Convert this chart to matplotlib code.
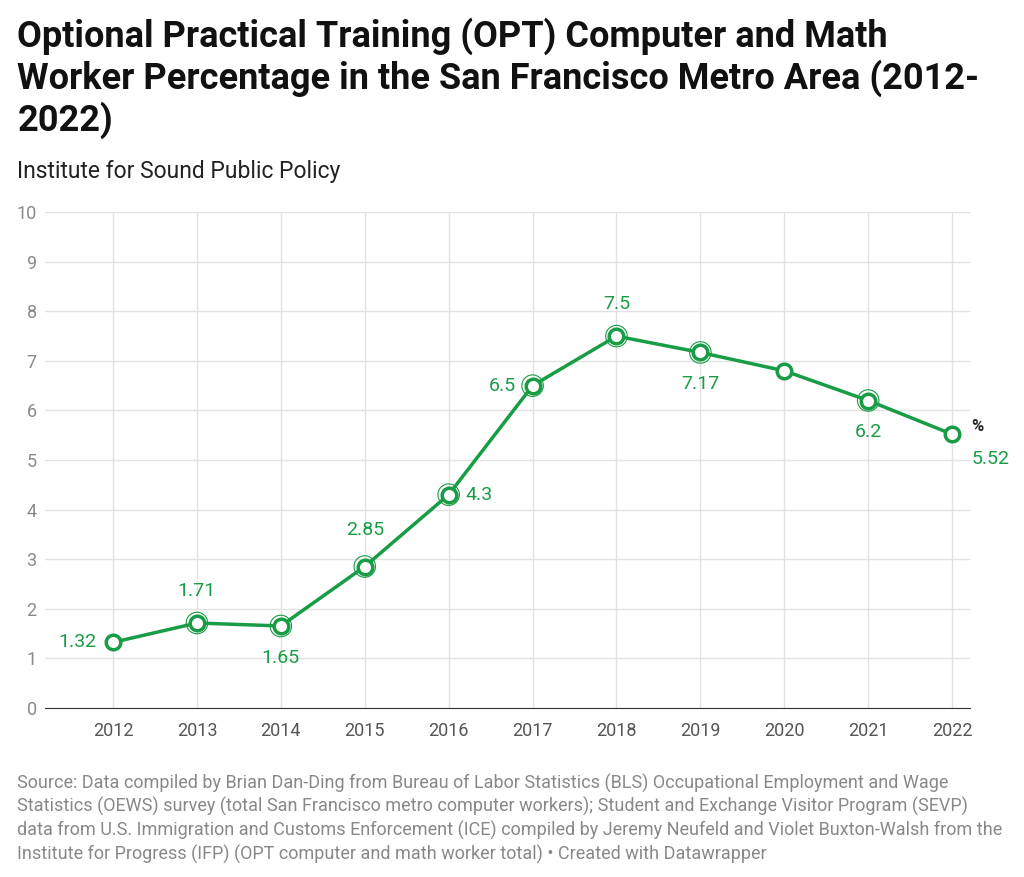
import matplotlib
matplotlib.use("Agg")
import matplotlib.pyplot as plt

plt.rcParams['font.family'] = ['Roboto', 'DejaVu Sans']

years = [2012, 2013, 2014, 2015, 2016, 2017, 2018, 2019, 2020, 2021, 2022]
values = [1.32, 1.71, 1.65, 2.85, 4.3, 6.5, 7.5, 7.17, 6.8, 6.2, 5.52]
labels = ['1.32', '1.71', '1.65', '2.85', '4.3', '6.5', '7.5', '7.17', '', '6.2', '5.52']
# label offsets in points (dx, dy) and alignment
offsets = [(-12, 0, 'right', 'center'), (0, 23, 'center', 'center'), (0, -23, 'center', 'center'),
           (0, 26, 'center', 'center'), (12, 0, 'left', 'center'), (-12, 0, 'right', 'center'),
           (0, 23, 'center', 'center'), (0, -23, 'center', 'center'), (0, 0, 'center', 'center'),
           (0, -23, 'center', 'center'), (14, -18, 'left', 'center')]
halo = [False, True, True, True, True, True, True, True, False, True, False]

green = '#189c45'
grey = '#8a8a8a'

fig = plt.figure(figsize=(10.24, 8.77), dpi=100)
ax = fig.add_axes([0.044, 0.193, 0.903, 0.565])
ax.set_xlim(2011.19, 2022.21)
ax.set_ylim(0, 10)

ax.plot(years, values, color=green, lw=2.5, zorder=3)
for x, y, h in zip(years, values, halo):
    if h:
        ax.scatter([x], [y], s=240, facecolor='none', edgecolor=green, lw=0.8, zorder=4)
    ax.scatter([x], [y], s=110, facecolor='white', edgecolor=green, lw=2.5, zorder=5)
for x, y, t, (dx, dy, ha, va) in zip(years, values, labels, offsets):
    if t:
        ax.annotate(t, (x, y), xytext=(dx, dy), textcoords='offset points',
                    ha=ha, va=va, color=green, fontsize=14)
ax.annotate('%', (2022, 5.52), xytext=(14, 0), textcoords='offset points',
            ha='left', va='bottom', fontsize=12, fontweight='bold', color='#222222')

ax.set_yticks(range(0, 11))
ax.set_xticks(years)
ax.grid(True, color='#e2e2e2', lw=1)
ax.set_axisbelow(True)
for s in ['top', 'right', 'left']:
    ax.spines[s].set_visible(False)
ax.spines['bottom'].set_color('#333333')
ax.tick_params(axis='y', length=0, labelsize=13, labelcolor=grey, pad=6)
ax.tick_params(axis='x', length=0, labelsize=13, labelcolor='#555555', pad=10)

fig.text(0.017, 0.98, 'Optional Practical Training (OPT) Computer and Math\n'
         'Worker Percentage in the San Francisco Metro Area (2012-\n2022)',
         fontsize=26, fontweight='bold', va='top', ha='left', linespacing=1.15, color='#111111')
fig.text(0.017, 0.805, 'Institute for Sound Public Policy', fontsize=16.5, va='center', color='#222222')
fig.text(0.017, 0.118, 'Source: Data compiled by Brian Dan-Ding from Bureau of Labor Statistics (BLS) Occupational Employment and Wage\n'
         'Statistics (OEWS) survey (total San Francisco metro computer workers); Student and Exchange Visitor Program (SEVP)\n'
         'data from U.S. Immigration and Customs Enforcement (ICE) compiled by Jeremy Neufeld and Violet Buxton-Walsh from the\n'
         'Institute for Progress (IFP) (OPT computer and math worker total) \u2022 Created with Datawrapper',
         fontsize=13, va='top', ha='left', color='#888888', linespacing=1.3)

fig.savefig('out.png', dpi=100)
